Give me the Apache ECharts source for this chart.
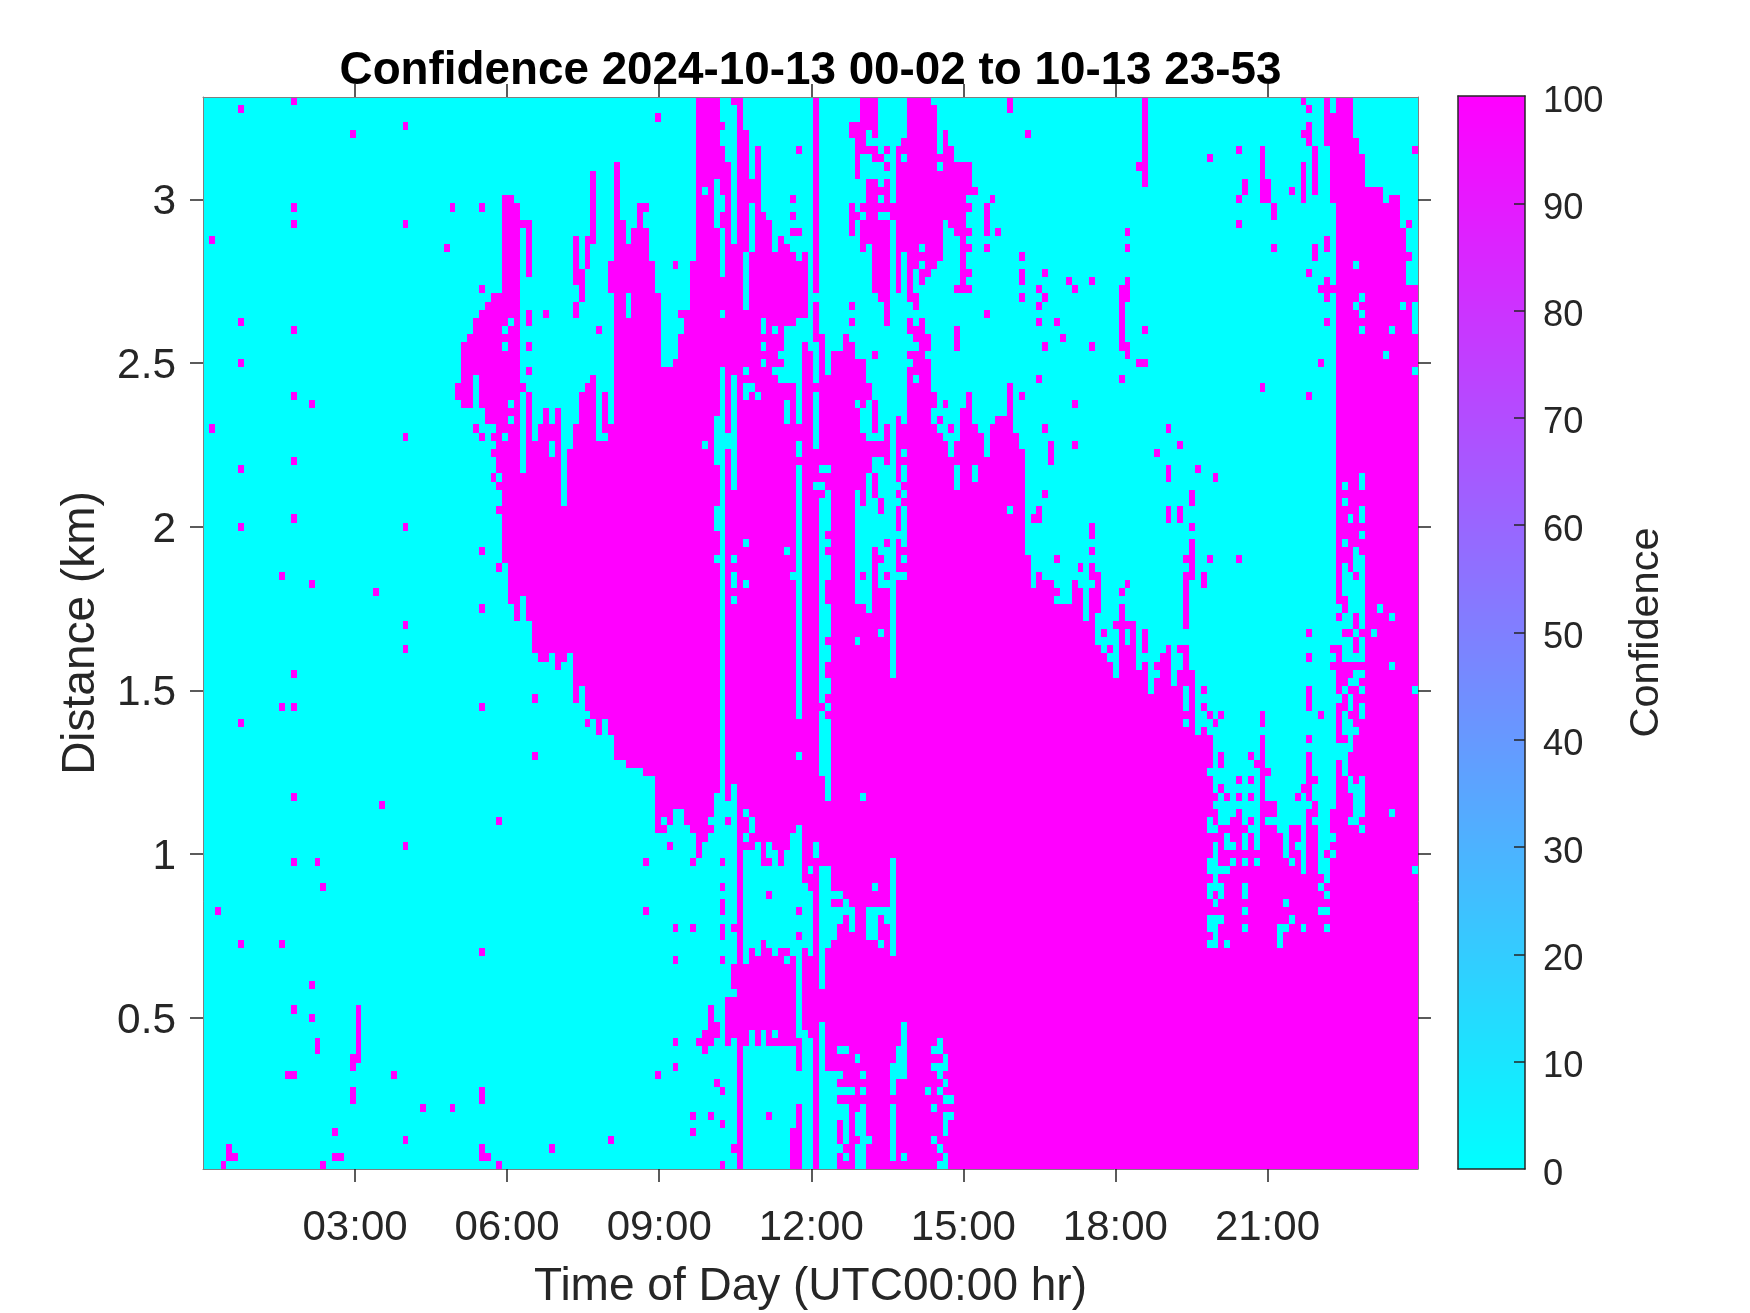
<!DOCTYPE html>
<html><head><meta charset="utf-8">
<style>html,body{margin:0;padding:0;background:#fff}#c{width:1750px;height:1313px}</style>
<script src="https://cdn.jsdelivr.net/npm/echarts@6/dist/echarts.min.js"></script>
</head><body><div id="c"></div>
<script>
const columnCount = 207, rowCount = 131;      // 207 soundings, 131 range gates (row 0 = farthest gate)
const firstEdgeHour = 0, lastEdgeHour = 23.97;
const topGateKm = 3.3, gateKm = 0.025;
const xTickHours = [3, 6, 9, 12, 15, 18, 21];
const yTickKm = [0.5, 1, 1.5, 2, 2.5, 3];
const barTicks = [0, 10, 20, 30, 40, 50, 60, 70, 80, 90, 100];
const titleText = 'Confidence 2024-10-13 00-02 to 10-13 23-53';

const highBlocks = [
 [51,52,12,12],[51,53,13,23],[49,53,24,24],[48,53,25,25],[47,53,26,26],[46,53,27,28],[45,53,29,29],[44,53,30,34],[43,53,35,36],[44,53,37,37],[48,53,38,39],[50,53,40,42],
 [54,54,15,15],[54,54,35,35],[55,55,15,21],[55,55,26,27],[55,55,30,30],[55,55,33,33],[55,55,36,42],
 [56,56,42,42],[57,57,40,42],[58,58,38,42],[59,59,40,41],[60,60,38,42],[63,63,40,42],[64,64,36,42],[65,65,35,42],[66,66,34,42],[67,67,42,42],[68,68,36,40],[68,68,42,42],
 [69,69,20,23],[69,69,40,42],[70,70,8,42],[71,71,15,42],[72,72,18,42],[73,73,16,42],[74,74,13,42],[75,75,13,13],[75,75,16,42],[76,76,20,42],[77,77,24,42],[78,79,33,42],[80,80,32,42],[81,81,26,26],[81,81,29,42],[82,82,26,42],[83,83,20,42],[84,87,0,42],
 [66,66,9,17],[63,63,17,22],[65,65,17,20],[64,64,21,24],[63,63,25,26],[58,58,26,26],[67,67,28,28],
 [88,88,3,3],[88,88,6,42],[89,89,8,42],[90,90,0,0],[90,90,18,42],[91,91,0,42],[92,92,4,18],[92,92,26,42],[93,93,10,12],[93,93,19,42],[94,94,6,42],[95,95,14,42],[96,96,15,42],[97,97,19,42],
 [98,98,17,30],[98,98,32,32],[98,98,35,42],[99,99,18,27],[99,99,35,36],[99,99,40,42],[100,100,19,27],[100,100,35,42],[101,101,20,26],[101,101,40,42],[102,102,19,26],[102,102,30,42],[103,103,31,42],
 [104,104,0,23],[104,104,25,29],[104,104,35,35],[105,105,29,42],[106,106,34,42],[107,108,31,42],[109,109,29,42],[110,110,30,42],[111,111,32,36],[111,111,38,42],[112,112,32,37],[112,112,41,42],[113,113,35,36],[114,114,37,40],[113,115,42,42],[116,116,40,42],[118,118,39,42],[119,119,40,42],
 [112,114,0,2],[110,112,3,4],[113,114,3,3],[114,114,4,4],[111,111,5,9],[112,112,5,6],[113,114,6,6],[114,115,7,7],[116,116,6,6],[116,116,8,8],
 [113,114,10,10],[116,116,10,12],[113,116,11,11],[113,114,12,12],[112,118,13,13],[110,110,13,16],[111,111,14,14],[113,114,14,14],[117,118,14,14],[112,116,15,17],[112,112,18,18],[114,116,18,23],[115,116,24,24],[116,116,25,27],
 [118,118,6,23],[119,119,5,18],[120,123,0,2],[124,124,1,2],[120,124,3,6],[126,126,4,6],[127,127,6,6],[120,127,7,7],[120,130,8,10],[120,131,11,11],[120,129,12,12],[120,130,13,13],[120,129,14,14],[120,125,15,15],[127,129,15,15],[120,125,16,16],[128,130,16,16],[120,125,17,17],[129,129,17,17],[120,125,18,18],[129,130,18,18],[120,125,19,19],[129,129,19,20],[120,124,20,20],[120,120,21,23],[122,123,21,21],[129,130,21,21],[122,122,22,22],[129,129,22,22],[128,130,23,23],[120,121,24,24],[121,121,25,25],
 [120,120,27,27],[122,122,27,27],[120,122,28,28],[121,123,29,29],[122,123,30,30],[120,122,31,31],[121,123,32,32],[120,123,33,33],[120,120,34,34],[122,123,34,34],[120,123,35,35],[120,124,36,37],[120,123,38,39],[120,124,40,40],[120,125,41,41],[120,126,42,42],[128,128,42,42],[129,129,38,42],[130,130,36,42],[131,131,40,42],[132,132,41,42],[134,134,40,42],[135,136,39,42],[137,137,35,42],[138,138,41,42],
 [49,139,43,43],[50,139,44,45],[51,139,46,46],[50,139,47,47],[51,139,48,49],[50,139,50,50],[51,139,51,56],[52,139,57,61],[53,139,62,63],[56,139,64,67],[57,58,68,68],[60,61,68,68],[63,139,68,68],[60,60,69,69],[63,139,69,71],[63,63,72,73],[65,139,72,74],[66,139,75,75],[67,67,76,77],[69,139,76,77],[70,139,78,80],[72,139,81,81],[75,139,82,82],[77,139,83,86],
 [140,140,56,59],[142,144,59,59],[140,145,60,60],[140,144,61,61],[148,148,59,59],[148,149,60,61],[140,149,62,63],[151,152,60,62],[151,151,57,58],[152,152,58,59],[151,151,63,63],[140,151,64,66],[140,152,67,67],[140,153,68,68],[140,154,69,70],[156,160,70,70],[163,164,70,70],[166,168,70,70],
 [140,160,71,71],[162,164,71,71],[166,168,71,71],[140,160,72,72],[162,166,72,72],[168,168,72,74],[140,166,73,74],[140,168,75,75],[140,166,76,76],[168,168,76,76],[140,168,77,77],[170,170,77,77],[140,171,78,81],[140,170,82,82],[140,171,83,84],[173,173,84,84],[140,172,85,85],[174,174,85,85],[140,171,86,86],
 [156,156,62,63],[155,157,64,64],[158,158,64,69],[156,156,65,66],[160,160,65,67],[156,157,67,69],[164,164,67,69],[166,167,67,67],[163,163,68,69],[167,167,68,69],[160,160,69,69],[162,162,69,69],
 [193,195,0,130],[196,196,5,130],[197,197,7,130],[198,200,11,130],[201,201,13,130],[202,203,12,130],[204,204,16,130],[205,206,23,130],[191,191,0,5],[192,192,2,12],[190,192,23,23],
 [91,206,87,130],[77,79,87,87],[82,86,87,87],[77,77,88,88],[79,79,88,88],[82,85,88,88],[77,78,89,89],[83,86,89,89],[84,85,90,90],
 [90,90,106,108],[89,90,110,113],[89,90,114,114],[89,89,115,115],[86,86,111,112],[86,87,113,113],[85,87,114,114],[84,86,115,115],[85,85,116,116],
 [188,188,80,85],[180,180,78,86],[187,187,84,84],[188,189,83,83],[186,186,85,85],[189,189,86,87],[180,181,82,82],[179,180,81,81],[180,180,75,76]
];
const lowBlocks = [
 [52,52,27,27],[51,51,28,28],[51,51,30,30],[52,52,37,37],[52,52,39,39],[51,51,41,41],[46,46,34,37],
 [54,54,43,45],[54,54,61,63],[59,59,43,43],[61,61,43,49],[72,72,24,26],
 [85,85,11,11],[87,87,10,15],[88,88,12,13],[88,88,16,21],[88,88,26,26],[88,88,33,38],[87,87,39,44],[88,88,39,86],[87,87,50,52],[87,87,56,56],[87,87,85,86],[89,89,41,42],[89,89,86,86],[90,90,34,47],[90,90,56,56],[90,90,58,59],[90,90,61,61],[90,90,84,86],[85,85,42,42],
 [92,92,33,33],[97,97,33,33],[95,95,27,28],[97,97,28,28],[95,95,30,30],[95,95,32,32],[92,93,35,35],[92,92,36,36],[94,94,36,36],[98,98,31,31],[99,99,37,39],
 [101,101,42,43],[119,119,7,7],[125,125,8,8],[122,122,18,18],[122,122,20,20],[121,121,34,34],[127,127,42,43],[117,117,43,44],[114,115,44,44],[119,119,43,43],
 [92,92,54,54],[92,92,59,59],[99,99,55,55],[101,101,45,75],[100,100,58,58],[101,101,80,80],
 [105,106,45,45],[104,105,47,47],[106,106,48,48],[105,105,49,61],[106,106,49,52],[106,106,54,54],[106,106,56,58],[105,106,62,65],[105,105,66,66],[105,106,67,68],[105,105,69,70],[105,106,71,72],[105,105,73,73],[106,106,74,74],[105,105,75,82],[106,106,76,85],
 [115,117,45,46],[114,114,45,45],[119,119,45,46],[118,118,47,47],[119,119,48,48],[118,118,49,49],[119,119,50,54],[118,119,53,53],[119,119,56,56],[118,119,58,58],
 [113,113,46,62],[111,111,48,61],[112,112,50,57],[112,112,59,61],[114,114,49,54],[115,117,47,48],[116,117,49,53],[115,115,51,55],[115,115,57,59],[116,116,55,57],[116,116,59,59],[117,117,54,70],
 [115,115,65,65],[111,111,66,66],[112,112,85,85],[127,127,43,43],[128,128,45,47],[131,131,45,46],[133,133,43,43],[137,137,50,50],
 [197,197,46,47],[194,194,47,47],[194,194,49,49],[195,195,51,51],[197,197,50,51],[197,197,53,53],[194,194,54,54],[196,196,55,55],[197,197,56,64],[197,197,66,68],[196,196,56,57],[196,196,59,62],[196,196,65,65],[196,196,68,68],[195,195,58,64],[195,195,66,68],[194,194,57,60],[194,194,63,64],[194,194,66,68],[193,193,62,62],[193,193,64,66],
 [196,197,70,70],[195,196,71,71],[194,194,72,72],[197,197,72,72],[193,193,73,73],[195,195,73,74],[197,197,74,75],[194,194,75,75],[194,195,76,76],[194,196,77,77],[195,195,78,78],[193,195,79,79],[193,194,80,80],[194,194,81,82],[195,195,83,83],[197,197,83,83],[195,197,84,84],[196,197,85,86],
 [199,199,65,65],[202,202,69,69],[200,200,62,62],[202,202,63,63],[206,206,72,72],[196,196,20,20],[197,197,24,24],[196,196,25,25],[197,197,26,26],[204,204,25,25],[197,197,28,28],[202,202,28,28],[201,201,31,31],[206,206,25,28],[206,206,33,33]
];
// [firstRow, lastRow, firstCol, lastCol, firstCol, lastCol, ...]
const lowRowRuns = [
 [87,87,92,92,173,175,177,179,183,187,190,191,196,197,202,202],
 [88,88,93,93,171,171,173,174,177,177,179,179,181,187,189,191,195,196],
 [89,89,93,93,101,101,171,172,178,179,183,184,187,187,190,191,197,197],
 [90,90,92,92,100,101,174,174,177,177,179,179,184,184,187,187,190,192],
 [91,91,94,94,96,96,100,101,104,104,172,172,174,175,177,177,179,179,184,184,186,187,190,191],
 [92,92,92,94,96,97,99,101,104,104,172,172,184,184,187,187,190,190,192,192],
 [93,93,92,94,97,97,99,101,117,117,171,172,175,175,177,177,179,179,185,185,187,187,190,191],
 [94,94,92,101,103,103,105,106,117,117,171,174,187,187,190,191,206,206],
 [95,95,92,101,105,106,117,117,172,172,191,191],
 [96,96,92,102,105,106,114,114,117,117,171,173,177,177,190,190],
 [97,97,92,95,97,103,105,108,117,117,171,171,173,173,177,177,191,191],
 [98,98,92,103,105,106,109,109,117,117,172,172,184,184],
 [99,99,92,100,102,103,105,110,113,117,177,177,190,191],
 [100,100,92,103,105,108,110,110,113,114,116,117,171,173,185,185],
 [101,101,92,103,105,107,110,110,113,114,117,117,171,172,177,177,183,184,187,187,191,191],
 [102,102,92,100,102,103,105,107,113,114,117,117,172,172,183,183],
 [103,103,92,94,96,103,105,106,115,115,117,117,171,172,174,174,183,183],
 [104,104,92,92,94,94,97,97,100,101,103,103,105,105,117,117],
 [105,105,92,92,99,99,101,101,105,105],
 [106,108,101,101,105,105],
 [109,112,101,101],
 [113,113,101,101,105,105,119,119],
 [114,114,93,93,95,95,97,97,101,102,105,105,119,119],
 [115,115,93,93,95,95,102,103,105,105,119,119,125,125],
 [116,116,92,100,102,103,105,105,108,109,118,119,124,125],
 [117,117,92,100,102,103,105,105,111,111,118,119,126,126],
 [118,118,92,100,102,103,105,105,117,119,124,126],
 [119,119,92,103,105,108,112,112,117,119,125,125],
 [120,120,92,103,105,107,117,117,126,126],
 [121,121,92,103,105,110,112,112,117,117,123,123,125,125],
 [122,122,92,103,105,107,126,127],
 [123,123,92,100,102,103,105,109,112,112,117,117,124,124],
 [124,124,92,95,97,100,102,103,105,109,111,112,117,117,126,127],
 [125,125,92,100,102,103,105,107,109,109,111,112,117,117,126,126],
 [126,126,92,99,102,103,105,107,109,109,111,112,117,117,126,126],
 [127,127,92,99,102,103,105,107,109,109,112,113,117,117,124,124],
 [128,128,92,99,102,103,105,108,111,112,117,117,125,125],
 [129,129,92,99,102,103,105,107,109,109,111,112,117,117,119,119,126,126],
 [130,130,92,99,102,103,105,107,111,112,125,126]
];
// isolated and short high-confidence runs [col, firstRow, lastRow]
const highSpecks = [
 [6,1,1],[15,0,0],[34,3,3],[25,4,4],[15,13,13],[42,13,13],[47,13,13],[15,15,15],[34,15,15],[1,17,17],[41,18,18],[47,23,23],[6,27,27],[15,28,28],[6,32,32],[15,36,36],[18,37,37],[1,40,40],[34,41,41],[46,40,40],[47,41,41],[49,41,41],[15,44,44],
 [6,45,45],[49,46,46],[15,51,51],[6,52,52],[34,52,52],[47,55,55],[50,57,57],[13,58,58],[18,59,59],[29,60,60],[47,62,62],[34,64,64],[34,67,67],[15,70,70],[56,73,73],[13,74,74],[15,74,74],[47,74,74],[6,76,76],[65,76,76],[56,80,80],[15,85,85],[30,86,86],
 [50,88,88],[34,91,91],[15,93,93],[19,93,93],[20,96,96],[2,99,99],[6,103,103],[13,103,103],[47,104,104],[18,108,108],[15,111,111],[18,112,112],[26,111,117],[19,115,116],[25,117,118],[14,119,119],[15,119,119],[32,119,119],[25,121,122],[47,121,122],[37,123,123],[42,123,123],[22,126,126],[34,127,127],[59,128,128],[69,127,127],[4,128,129],[5,129,129],[3,130,130],[20,130,130],[22,129,129],[23,129,129],[47,128,129],[48,129,129],[50,130,130],
 [77,2,2],[80,20,20],[101,6,6],[100,12,12],[100,14,14],[100,16,16],[101,16,16],[110,25,25],[110,27,27],[114,31,31],[126,37,37],[125,39,39],[127,40,40],[128,28,30],[137,0,1],[134,12,12],[133,13,16],[135,16,16],[133,18,18],[139,19,19],[139,21,22],[139,24,24],[133,26,26],[139,36,36],
 [140,4,4],[160,0,10],[159,8,8],[171,7,7],[176,6,6],[180,6,12],[181,10,12],[177,10,11],[176,12,12],[182,13,14],[185,11,11],[187,8,12],[187,4,4],[188,3,5],[187,0,0],[188,1,1],[189,6,11],[205,15,15],[205,19,19],[206,6,6],[191,17,18],[189,18,19],[188,21,21],[191,22,24],[191,27,27],[176,15,15],[182,18,18],[157,16,16],[157,18,18],[143,21,21],[147,22,22],[148,23,23],[151,22,22],[142,23,23],[143,24,24],[142,25,25],[142,27,27],[145,27,27],[146,29,29],[143,30,30],[151,30,30],[157,22,22],[156,23,24],[157,23,24],[156,25,30],[157,30,31],[160,28,28],[159,32,32],[160,32,32],[142,34,34],[156,34,34],[180,35,35],[190,32,32],[188,36,36],[143,40,40],[148,37,37],[148,42,42],[144,42,44],[164,40,40],[166,42,42],[162,43,43],
 [164,45,46],[169,45,45],[172,46,46],[168,48,49],[143,48,48],[142,50,51],[141,51,51],[164,50,51],[166,50,51],[168,52,52],[151,52,53],[151,55,55],[168,54,58],[167,56,56],[167,58,58],[167,59,64],[170,58,59],[171,56,56],[176,56,56],[145,56,56],[149,57,57],[142,58,58],[157,59,59],[156,60,60],[153,65,65],[154,67,67],
 [188,65,65],[188,68,68],[188,72,74],[190,75,75],[188,78,78],[170,72,72],[170,74,74],[171,75,75],[172,76,76],[173,75,75],[173,80,81],[178,80,80],[176,83,83],[178,83,83],[176,85,85],[178,85,85],[182,86,87],[181,86,87],[192,67,67],[192,69,69],
 [88,93,93],[83,93,93],[75,93,93],[79,91,91],[84,91,92],[88,96,96],[88,98,99],[75,99,99],[80,101,101],[83,101,101],[88,101,102],[90,101,101],[80,105,105],[88,105,105],[80,115,115],[80,118,118],[77,119,119],[87,120,120],[88,121,121],[83,124,124],[86,124,124],[88,125,125],[83,126,126],[69,127,127],[90,128,128],[88,130,130],[89,88,88],[78,89,89]
];

// one 0/100 confidence value per cell
const grid = Array.from({length: rowCount}, () => new Array(columnCount).fill(0));
function paint(c0, c1, r0, r1, v) {
  for (let r = r0; r <= Math.min(r1, rowCount - 1); r++)
    for (let c = c0; c <= c1; c++) grid[r][c] = v;
}
highBlocks.forEach(b => paint(b[0], b[1], b[2], b[3], 100));
lowBlocks.forEach(b => paint(b[0], b[1], b[2], b[3], 0));
lowRowRuns.forEach(a => { for (let i = 2; i < a.length; i += 2) paint(a[i], a[i + 1], a[0], a[1], 0); });
highSpecks.forEach(s => paint(s[0], s[0], s[1], s[2], 100));

const colHours = (lastEdgeHour - firstEdgeHour) / columnCount;
const cells = [];
for (let r = 0; r < rowCount; r++) for (let c = 0; c < columnCount; c++)
  cells.push([firstEdgeHour + (c + 0.5) * colHours, topGateKm - r * gateKm, grid[r][c]]);

const barLevels = []; for (let v = 0; v < 256; v++) barLevels.push(v * 100 / 255);
function cool(v) {
  const t = v / 100;
  return 'rgb(' + Math.round(255 * t) + ',' + Math.round(255 * (1 - t)) + ',255)';
}
function renderCell(params, api) {
  const x = api.value(0), y = api.value(1);
  const a = api.coord([x - colHours / 2, y + gateKm / 2]);
  const b = api.coord([x + colHours / 2, y - gateKm / 2]);
  const x0 = Math.round(a[0]), y0 = Math.round(a[1]);
  return {type: 'rect', shape: {x: x0, y: y0, width: Math.round(b[0]) - x0, height: Math.round(b[1]) - y0},
          style: {fill: cool(api.value(2))}, silent: true};
}
function renderBar(params, api) {
  const v = api.value(0), step = 100 / 255;
  const a = api.coord([0, v + step / 2]), b = api.coord([1, v - step / 2]);
  return {type: 'rect', shape: {x: a[0], y: Math.floor(a[1]), width: b[0] - a[0], height: Math.ceil(b[1]) - Math.floor(a[1])},
          style: {fill: cool(v)}, silent: true};
}
const textColor = '#262626', font = 'Liberation Sans';
const frame = {show: true, onZero: false, lineStyle: {color: '#808080', width: 1}};
const outTick = values => ({show: true, inside: false, length: 13, customValues: values, lineStyle: {color: textColor, width: 1.5}});
const barFrame = {show: true, onZero: false, lineStyle: {color: textColor, width: 1.5}};

const chart = echarts.init(document.getElementById('c'), null, {renderer: 'canvas'});
chart.setOption({
  animation: false,
  backgroundColor: '#fff',
  title: {text: titleText, left: 805.5, top: 43, textAlign: 'center',
    textStyle: {fontFamily: font, fontWeight: 'bold', fontSize: 45.8, color: '#000'}},
  grid: [
    {left: 203, top: 97, width: 1215, height: 1072, outerBoundsMode: 'none'},
    {left: 1458, top: 96, width: 67, height: 1073, outerBoundsMode: 'none'}
  ],
  xAxis: [
    {type: 'value', gridIndex: 0, position: 'bottom', min: firstEdgeHour, max: lastEdgeHour, z: 5,
     name: 'Time of Day (UTC00:00 hr)', nameLocation: 'middle', nameGap: 95,
     nameTextStyle: {fontFamily: font, fontSize: 46, color: textColor},
     axisLine: frame, axisTick: outTick(xTickHours), splitLine: {show: false},
     axisLabel: {show: true, customValues: xTickHours, margin: 38, fontFamily: font, fontSize: 42, color: textColor,
       formatter: v => String(v).padStart(2, '0') + ':00'}},
    {type: 'value', gridIndex: 0, position: 'top', min: firstEdgeHour, max: lastEdgeHour, z: 5,
     axisLine: frame, axisTick: outTick(xTickHours), axisLabel: {show: false}, splitLine: {show: false}},
    {type: 'value', gridIndex: 1, position: 'bottom', min: 0, max: 1, z: 5, axisLine: barFrame,
     axisTick: {show: false}, axisLabel: {show: false}, splitLine: {show: false}},
    {type: 'value', gridIndex: 1, position: 'top', min: 0, max: 1, z: 5, axisLine: barFrame,
     axisTick: {show: false}, axisLabel: {show: false}, splitLine: {show: false}}
  ],
  yAxis: [
    {type: 'value', gridIndex: 0, position: 'left', min: topGateKm - (rowCount - 0.5) * gateKm, max: topGateKm + gateKm / 2, z: 5,
     name: 'Distance (km)', nameLocation: 'middle', nameGap: 98.5, nameRotate: 90,
     nameTextStyle: {fontFamily: font, fontSize: 46, color: textColor},
     axisLine: frame, axisTick: outTick(yTickKm), splitLine: {show: false},
     axisLabel: {show: true, customValues: yTickKm, margin: 27, fontFamily: font, fontSize: 42.4, color: textColor, verticalAlign: 'top', lineHeight: 7}},
    {type: 'value', gridIndex: 0, position: 'right', min: topGateKm - (rowCount - 0.5) * gateKm, max: topGateKm + gateKm / 2, z: 5,
     axisLine: frame, axisTick: outTick(yTickKm), axisLabel: {show: false}, splitLine: {show: false}},
    {type: 'value', gridIndex: 1, position: 'right', min: 0, max: 100, interval: 10, z: 5,
     name: 'Confidence', nameLocation: 'middle', nameGap: 101, nameRotate: 90,
     nameTextStyle: {fontFamily: font, fontSize: 41.5, color: textColor},
     axisLine: barFrame, splitLine: {show: false},
     axisTick: {show: true, inside: true, length: 11, customValues: barTicks.slice(1, -1), lineStyle: {color: textColor, width: 1.5}},
     axisLabel: {show: true, customValues: barTicks, margin: 18, fontFamily: font, fontSize: 36.3, color: textColor, verticalAlign: 'top', lineHeight: 11}},
    {type: 'value', gridIndex: 1, position: 'left', min: 0, max: 100, z: 5, axisLine: barFrame,
     axisTick: {show: false}, axisLabel: {show: false}, splitLine: {show: false}}
  ],
  series: [
    {type: 'custom', coordinateSystem: 'cartesian2d', xAxisIndex: 0, yAxisIndex: 0, data: cells,
     encode: {x: 0, y: 1}, renderItem: renderCell, clip: true, progressive: 0, silent: true},
    {type: 'custom', coordinateSystem: 'cartesian2d', xAxisIndex: 2, yAxisIndex: 2,
     data: barLevels.map(v => [v]), encode: {y: 0}, renderItem: renderBar, clip: true, progressive: 0, silent: true}
  ]
});
</script></body></html>
